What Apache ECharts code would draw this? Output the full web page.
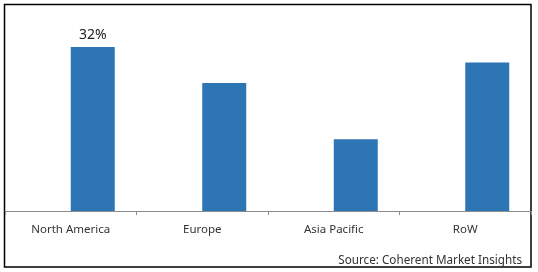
<!DOCTYPE html>
<html>
<head>
<meta charset="utf-8">
<script src="https://cdn.jsdelivr.net/npm/echarts@6/dist/echarts.min.js"></script>
<style>html,body{margin:0;padding:0;background:#fff;}#c{width:538px;height:272px;}</style>
</head>
<body>
<div id="c"></div>
<script>
const categories = ['North America', 'Europe', 'Asia Pacific', 'RoW'];
const shares = [32, 25, 14, 29];
const labelledIndex = [0];
const sourceText = 'Source: Coherent Market Insights';

const chart = echarts.init(document.getElementById('c'), null, {renderer: 'canvas'});
const FONT = '"Noto Sans", "Open Sans", sans-serif';
chart.setOption({
  animation: false,
  grid: {left: 5, right: 7, top: 6, bottom: 61, containLabel: false},
  xAxis: {
    type: 'category',
    data: categories,
    axisLine: {lineStyle: {color: '#8c8c8c', width: 1}},
    axisTick: {show: true, length: 4, lineStyle: {color: '#8c8c8c'}},
    axisLabel: {color: '#333', fontSize: 11.5, fontFamily: FONT, margin: 12.5}
  },
  yAxis: {type: 'value', min: 0, max: 40, show: false, splitLine: {show: false}},
  series: [
    {type: 'bar', data: categories.map(() => null), barWidth: 44, barGap: '0%'},
    {
      type: 'bar',
      data: shares.map((v, i) => ({
        value: v,
        label: {show: labelledIndex.includes(i)}
      })),
      barWidth: 44,
      barGap: '0%',
      itemStyle: {color: '#2e75b6'},
      label: {position: 'top', distance: 5, formatter: '{c}%', color: '#222', fontSize: 14, fontFamily: FONT}
    }
  ],
  graphic: [
    {type: 'rect', shape: {x: 4.5, y: 4.5, width: 526.5, height: 262.5}, style: {fill: null, stroke: '#000', lineWidth: 1.5}, silent: true},
    {type: 'text', right: 16, top: 254.5, style: {text: sourceText, fill: '#333', fontSize: 11.7, fontFamily: FONT}}
  ]
});
</script>
</body>
</html>
